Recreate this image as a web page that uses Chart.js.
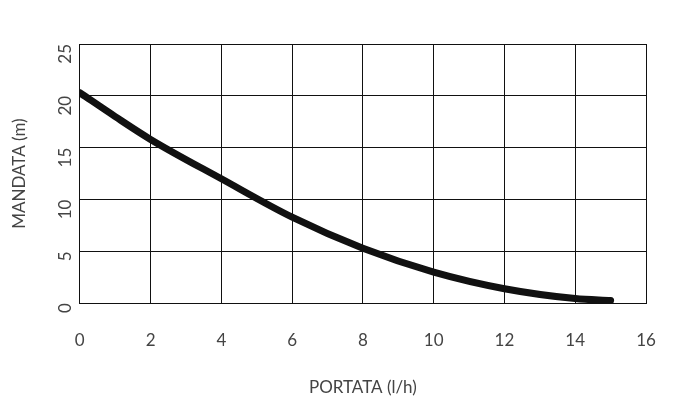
<!DOCTYPE html>
<html><head><meta charset="utf-8">
<script src="https://cdn.jsdelivr.net/npm/chart.js@4"></script>
<style>html,body{margin:0;background:#fff}#w{width:700px;height:420px}</style>
</head><body><div id="w"><canvas id="c"></canvas></div>
<script>
const flowX = [0, 1, 2, 4, 6, 8, 10, 12, 14, 15];
const headY = [20.3, 18, 15.8, 12, 8.3, 5.3, 3.0, 1.4, 0.45, 0.25];
const xTicks = [0, 2, 4, 6, 8, 10, 12, 14, 16];
const yTicks = [0, 5, 10, 15, 20, 25];
const pts = flowX.map((x, i) => ({x, y: headY[i]}));
new Chart(document.getElementById('c'), {
  type: 'scatter',
  data: {datasets: [{data: pts, showLine: true, borderColor: '#111', borderWidth: 7,
    pointRadius: 0, tension: 0.4, cubicInterpolationMode: 'monotone', borderCapStyle: 'round'}]},
  options: {
    responsive: true, maintainAspectRatio: false, animation: false,
    layout: {padding: {left: 5, right: 54, top: 44, bottom: 18}},
    plugins: {legend: {display: false}, tooltip: {enabled: false}},
    scales: {
      x: {type: 'linear', min: 0, max: 16,
        afterBuildTicks: s => { s.ticks = xTicks.map(v => ({value: v})); },
        grid: {color: '#111', lineWidth: 1, drawTicks: false},
        border: {color: '#111'},
        ticks: {color: '#444', padding: 27, font: {family: 'Lato', size: 17}},
        title: {display: true, text: 'PORTATA (l/h)', color: '#444', font: {family: 'Lato', size: 17}, padding: {top: 0}}},
      y: {min: 0, max: 25,
        afterBuildTicks: s => { s.ticks = yTicks.map(v => ({value: v})); },
        grid: {color: '#111', lineWidth: 1, drawTicks: false},
        border: {color: '#111'},
        ticks: {color: '#444', padding: 14, minRotation: 90, maxRotation: 90, font: {family: 'Lato', size: 17}},
        title: {display: true, text: 'MANDATA (m)', color: '#444', font: {family: 'Lato', size: 17}, padding: {bottom: 2}}}
    }
  }
});
</script></body></html>
